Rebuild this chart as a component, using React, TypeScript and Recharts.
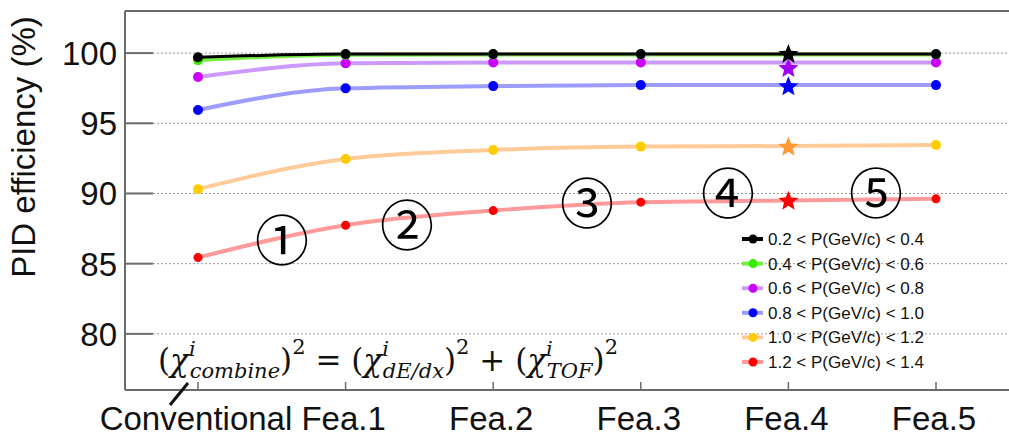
import React from "react";
import {
  ComposedChart,
  Line,
  XAxis,
  YAxis,
  CartesianGrid,
  ReferenceLine,
} from "recharts";

// PID efficiency for each momentum bin, conventional method vs. feature sets
const categories = ["Conventional", "Fea.1", "Fea.2", "Fea.3", "Fea.4", "Fea.5"];
const p02_04 = [99.7, 99.93, 99.93, 99.93, 99.93, 99.93];
const p04_06 = [99.5, 99.88, 99.9, 99.9, 99.9, 99.9];
const p06_08 = [98.3, 99.27, 99.34, 99.34, 99.34, 99.34];
const p08_10 = [95.95, 97.49, 97.65, 97.72, 97.72, 97.72];
const p10_12 = [90.31, 92.46, 93.1, 93.34, 93.38, 93.46];
const p12_14 = [85.44, 87.74, 88.78, 89.38, 89.5, 89.62];

// highlighted results at Fea.4
const starBlack = 99.9;
const starPurple = 98.9;
const starBlue = 97.6;
const starOrange = 93.3;
const starRed = 89.45;

const yTicks = [80, 85, 90, 95, 100];
const legendLabels = [
  "0.2 < P(GeV/c) < 0.4",
  "0.4 < P(GeV/c) < 0.6",
  "0.6 < P(GeV/c) < 0.8",
  "0.8 < P(GeV/c) < 1.0",
  "1.0 < P(GeV/c) < 1.2",
  "1.2 < P(GeV/c) < 1.4",
];
const circledLabels = ["①", "②", "③", "④", "⑤"];

const W = 1009;
const H = 435;
const PLOT_LEFT = 125;
const PLOT_TOP = 11;
const PLOT_BOTTOM = 390;
const AXIS = "#6b6b6b";
const SANS = "'Liberation Sans', Arial, sans-serif";

const series = [
  { key: "p12_14", line: "#ff9a9a", dot: "#ff0000", width: 4, r: 4.5 },
  { key: "p10_12", line: "#ffcc99", dot: "#ffcc00", width: 4, r: 5 },
  { key: "p08_10", line: "#9d9dff", dot: "#0000ff", width: 4, r: 5 },
  { key: "p06_08", line: "#cc99ff", dot: "#cc00ff", width: 4, r: 5 },
  { key: "p04_06", line: "#77ee44", dot: "#33ee00", width: 4, r: 5 },
  { key: "p02_04", line: "#000000", dot: "#000000", width: 3, r: 5 },
];

const stars = [
  { key: "sRed", color: "#ff0000" },
  { key: "sOrange", color: "#ff9933" },
  { key: "sBlue", color: "#0000ff" },
  { key: "sPurple", color: "#a000f0" },
  { key: "sBlack", color: "#000000" },
];

// legend order top→bottom
const legendStyles = [
  { line: "#000000", dot: "#000000" },
  { line: "#77ee44", dot: "#33ee00" },
  { line: "#cc99ff", dot: "#cc00ff" },
  { line: "#9d9dff", dot: "#0000ff" },
  { line: "#ffcc99", dot: "#ffcc00" },
  { line: "#ff9a9a", dot: "#ff0000" },
];

const data = categories.map((name, i) => ({
  name,
  p02_04: p02_04[i],
  p04_06: p04_06[i],
  p06_08: p06_08[i],
  p08_10: p08_10[i],
  p10_12: p10_12[i],
  p12_14: p12_14[i],
  sBlack: i === 4 ? starBlack : null,
  sPurple: i === 4 ? starPurple : null,
  sBlue: i === 4 ? starBlue : null,
  sOrange: i === 4 ? starOrange : null,
  sRed: i === 4 ? starRed : null,
}));

const starPath = (cx: number, cy: number, R: number, r: number) => {
  const pts: string[] = [];
  for (let k = 0; k < 10; k++) {
    const rad = k % 2 === 0 ? R : r;
    const a = -Math.PI / 2 + (k * Math.PI) / 5;
    pts.push(`${cx + rad * Math.cos(a)},${cy + rad * Math.sin(a)}`);
  }
  return `M${pts.join("L")}Z`;
};

const makeDot = (color: string, r: number) => (props: any) => {
  const { cx, cy, index } = props;
  if (index === 4 || cy == null) return <g key={`d-${index}`} />;
  return <circle key={`d-${index}`} cx={cx} cy={cy} r={r} fill={color} />;
};

const makeStar = (color: string) => (props: any) => {
  const { cx, cy, index, value } = props;
  if (value == null || cy == null) return <g key={`s-${index}`} />;
  return <path key={`s-${index}`} d={starPath(cx, cy, 10.5, 4.6)} fill={color} />;
};

const YTick = (props: any) => {
  const { y, payload } = props;
  return (
    <g>
      <line x1={PLOT_LEFT} x2={PLOT_LEFT + 28} y1={y} y2={y} stroke={AXIS} strokeWidth={2} />
      <text x={PLOT_LEFT - 8} y={y + 12} textAnchor="end" fontSize={33} fontFamily={SANS} fill="#111">
        {payload.value}
      </text>
    </g>
  );
};

const XTick = (props: any) => {
  const { x, payload } = props;
  return (
    <g>
      <line x1={x} x2={x} y1={PLOT_BOTTOM} y2={PLOT_BOTTOM - 8} stroke={AXIS} strokeWidth={1.5} />
      <text x={x - 2} y={430} textAnchor="middle" fontSize={33} fontFamily={SANS} fill="#111">
        {payload.value}
      </text>
    </g>
  );
};

const Formula = () => {
  const main = 31;
  const sub = 21;
  const serif = "'DejaVu Serif', 'Liberation Serif', serif";
  return (
    <text x={158} y={371} fontFamily={serif} fontSize={main} fill="#111">
      <tspan>(</tspan>
      <tspan fontStyle="italic">χ</tspan>
      <tspan fontStyle="italic" fontSize={sub} dy={-15}>i</tspan>
      <tspan fontStyle="italic" fontSize={sub} dx={-6} dy={22}>combine</tspan>
      <tspan dy={-7}>)</tspan>
      <tspan fontSize={sub} dy={-17}>2</tspan>
      <tspan dy={17}> = (</tspan>
      <tspan fontStyle="italic">χ</tspan>
      <tspan fontStyle="italic" fontSize={sub} dy={-15}>i</tspan>
      <tspan fontStyle="italic" fontSize={sub} dx={-6} dy={22}>dE/dx</tspan>
      <tspan dy={-7}>)</tspan>
      <tspan fontSize={sub} dy={-17}>2</tspan>
      <tspan dy={17}> + (</tspan>
      <tspan fontStyle="italic">χ</tspan>
      <tspan fontStyle="italic" fontSize={sub} dy={-15}>i</tspan>
      <tspan fontStyle="italic" fontSize={sub} dx={-6} dy={22}>TOF</tspan>
      <tspan dy={-7}>)</tspan>
      <tspan fontSize={sub} dy={-17}>2</tspan>
    </text>
  );
};

const circledPos = [
  [282, 237],
  [407, 222],
  [587, 200],
  [728, 190],
  [876, 190],
];

export default function App() {
  return (
    <div style={{ position: "absolute", left: 0, top: 0, width: W, height: H, background: "#fff" }}>
      <ComposedChart
        width={W}
        height={H}
        data={data}
        margin={{ top: PLOT_TOP, right: 0, left: 0, bottom: 0 }}
      >
        <CartesianGrid horizontal vertical={false} stroke="#9a9a9a" strokeDasharray="2 2" />
        <XAxis
          dataKey="name"
          height={H - PLOT_BOTTOM}
          padding={{ left: 73, right: 73 }}
          axisLine={{ stroke: AXIS, strokeWidth: 2 }}
          tickLine={false}
          tick={<XTick />}
          interval={0}
        />
        <YAxis
          width={PLOT_LEFT}
          domain={[76, 103]}
          ticks={yTicks}
          allowDataOverflow
          axisLine={{ stroke: AXIS, strokeWidth: 2 }}
          tickLine={false}
          tick={<YTick />}
          label={{
            content: () => (
              <text
                x={35}
                y={147}
                transform="rotate(-90 35 147)"
                textAnchor="middle"
                fontSize={33}
                fontFamily={SANS}
                fill="#111"
              >
                PID efficiency (%)
              </text>
            ),
          }}
        />
        <ReferenceLine y={103} stroke={AXIS} strokeWidth={2} />
        {series.map((s) => (
          <Line
            key={s.key}
            dataKey={s.key}
            type="monotone"
            stroke={s.line}
            strokeWidth={s.width}
            dot={makeDot(s.dot, s.r)}
            activeDot={false}
            isAnimationActive={false}
          />
        ))}
        {stars.map((s) => (
          <Line
            key={s.key}
            dataKey={s.key}
            stroke="none"
            dot={makeStar(s.color)}
            activeDot={false}
            isAnimationActive={false}
          />
        ))}
      </ComposedChart>
      <svg
        width={W}
        height={H}
        style={{ position: "absolute", left: 0, top: 0, pointerEvents: "none" }}
      >
        {circledLabels.map((t, i) => (
          <text
            key={t}
            x={circledPos[i][0]}
            y={circledPos[i][1]}
            textAnchor="middle"
            dominantBaseline="central"
            fontSize={54}
            fontFamily="'Noto Sans CJK JP', 'DejaVu Sans', sans-serif"
            fill="#000"
          >
            {t}
          </text>
        ))}
        <Formula />
        <line x1={188} y1={383} x2={170} y2={405} stroke="#111" strokeWidth={3} />
        {legendLabels.map((label, i) => {
          const cy = 239 + i * 24.6;
          return (
            <g key={label}>
              <line x1={742} x2={763} y1={cy} y2={cy} stroke={legendStyles[i].line} strokeWidth={4} />
              <circle cx={753} cy={cy} r={4.5} fill={legendStyles[i].dot} />
              <text x={768} y={cy + 6} fontSize={17} fontFamily={SANS} fill="#111">
                {label}
              </text>
            </g>
          );
        })}
      </svg>
    </div>
  );
}
